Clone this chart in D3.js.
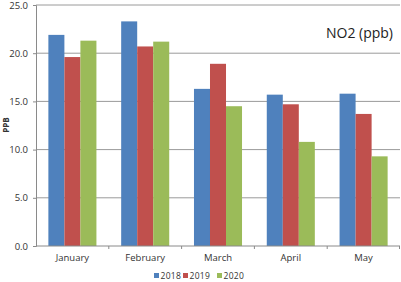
<!DOCTYPE html>
<html>
<head>
<meta charset="utf-8">
<script src="https://cdn.jsdelivr.net/npm/d3@7"></script>
<style>
  body { margin: 0; background: #fff; }
  text { font-family: "Open Sans", "DejaVu Sans", sans-serif; }
</style>
</head>
<body>
<div id="chart"></div>
<script>
// Chart data
const months = ["January", "February", "March", "April", "May"];
const years = ["2018", "2019", "2020"];
const values2018 = [21.9, 23.3, 16.3, 15.7, 15.8];
const values2019 = [19.6, 20.7, 18.9, 14.7, 13.7];
const values2020 = [21.3, 21.2, 14.5, 10.8, 9.3];
const yTicks = [0, 5, 10, 15, 20, 25];
const colors = ["#4F81BD", "#C0504D", "#9BBB59"];

const series = [values2018, values2019, values2020];

const width = 401, height = 282;
const margin = { top: 5, right: 1, bottom: 36, left: 36 };
const innerW = width - margin.left - margin.right;
const innerH = height - margin.top - margin.bottom;

const svg = d3.select("#chart")
    .append("svg")
    .attr("width", width)
    .attr("height", height);

const g = svg.append("g")
    .attr("transform", `translate(${margin.left},${margin.top})`);

// Scales
const x0 = d3.scaleBand()
    .domain(months)
    .range([0, innerW])
    .paddingInner(0)
    .paddingOuter(0);

const x1 = d3.scaleBand()
    .domain(years)
    .range([0, x0.bandwidth() * 0.66])
    .padding(0);

const y = d3.scaleLinear()
    .domain([0, 25])
    .range([innerH, 0]);

// Gridlines
g.selectAll(".grid")
    .data(yTicks.filter(d => d > 0))
    .enter()
    .append("line")
    .attr("class", "grid")
    .attr("x1", 0)
    .attr("x2", innerW)
    .attr("y1", d => y(d))
    .attr("y2", d => y(d))
    .attr("stroke", "#9a9a9a")
    .attr("stroke-width", 1);

// Bars
const groupOffset = (x0.bandwidth() - x1.range()[1]) / 2;
const groups = g.selectAll(".month")
    .data(months)
    .enter()
    .append("g")
    .attr("transform", d => `translate(${x0(d) + groupOffset},0)`);

groups.selectAll("rect")
    .data((m, i) => years.map((yr, j) => ({ year: yr, value: series[j][i], color: colors[j] })))
    .enter()
    .append("rect")
    .attr("x", d => x1(d.year))
    .attr("y", d => y(d.value))
    .attr("width", x1.bandwidth())
    .attr("height", d => innerH - y(d.value))
    .attr("fill", d => d.color);

// Y axis
const yAxis = g.append("g")
    .call(d3.axisLeft(y).tickValues(yTicks).tickFormat(d3.format(".1f")).tickSize(3).tickPadding(5));
yAxis.select(".domain").attr("stroke", "#8a8a8a");
yAxis.selectAll(".tick line").attr("stroke", "#8a8a8a");
yAxis.selectAll("text").attr("fill", "#333").style("font-size", "9.5px");

// X axis with ticks at band boundaries
const xAxis = g.append("g")
    .attr("transform", `translate(0,${innerH})`);
xAxis.append("line")
    .attr("x1", 0).attr("x2", innerW)
    .attr("stroke", "#8a8a8a");
xAxis.selectAll(".xtick")
    .data(months.slice(1).concat(["end"]))
    .enter()
    .append("line")
    .attr("x1", d => d === "end" ? innerW - 0.5 : x0(d))
    .attr("x2", d => d === "end" ? innerW - 0.5 : x0(d))
    .attr("y1", 0).attr("y2", 3)
    .attr("stroke", "#8a8a8a");
xAxis.selectAll(".xlabel")
    .data(months)
    .enter()
    .append("text")
    .attr("x", d => x0(d) + x0.bandwidth() / 2)
    .attr("y", 15)
    .attr("text-anchor", "middle")
    .attr("fill", "#333")
    .style("font-size", "9.5px")
    .text(d => d);

// Y axis title
svg.append("text")
    .attr("transform", "translate(9,125) rotate(-90)")
    .attr("text-anchor", "middle")
    .attr("fill", "#333")
    .style("font-size", "8px")
    .style("font-weight", "bold")
    .text("PPB");

// Chart title
svg.append("text")
    .attr("x", 393)
    .attr("y", 38)
    .attr("text-anchor", "end")
    .attr("fill", "#222")
    .style("font-size", "14px")
    .text("NO2 (ppb)");

// Legend
const legendX = [154, 183, 217];
const legend = svg.selectAll(".legend")
    .data(years)
    .enter()
    .append("g")
    .attr("transform", (d, i) => `translate(${legendX[i]},276)`);
legend.append("rect")
    .attr("x", 0).attr("y", -3)
    .attr("width", 5).attr("height", 5)
    .attr("fill", (d, i) => colors[i]);
legend.append("text")
    .attr("x", 6.5)
    .attr("y", 3)
    .attr("fill", "#333")
    .style("font-size", "8.5px")
    .style("letter-spacing", "0.3px")
    .text(d => d);
</script>
</body>
</html>
